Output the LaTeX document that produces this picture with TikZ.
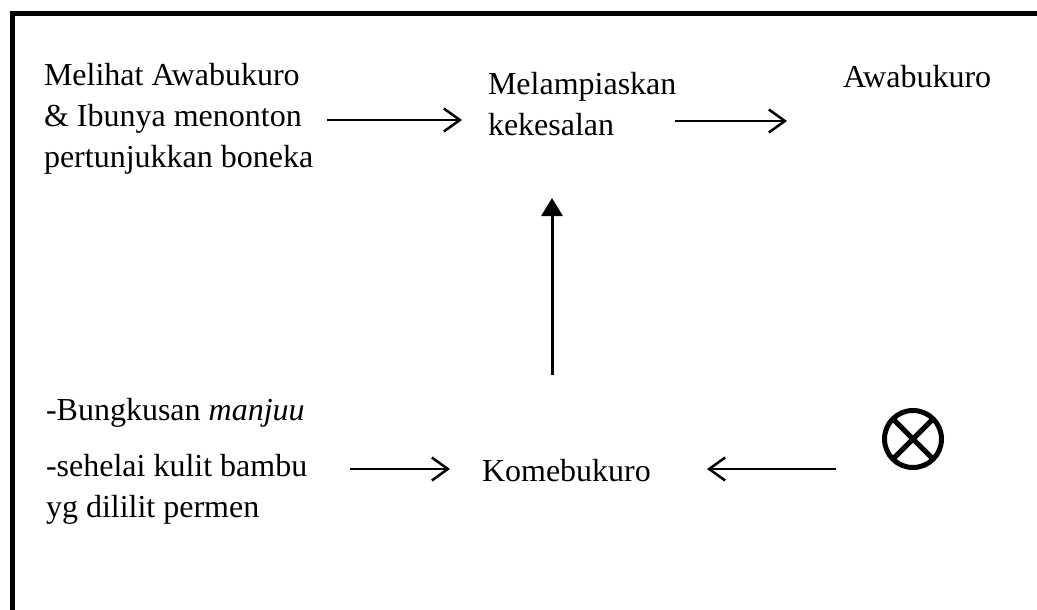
\documentclass[tikz,border=0pt]{standalone}
\usepackage{fontspec}
\setmainfont{Liberation Serif}
\usetikzlibrary{arrows.meta}
\tikzset{
  lbl/.style={anchor=base west, inner sep=0pt, outer sep=0pt, font=\fontsize{32}{41}\selectfont},
  flow/.style={line width=2.5pt, -{Straight Barb[length=16pt, width=23pt, line width=2.5pt]}},
  upflow/.style={line width=3pt, -{Triangle[length=18pt, width=21pt]}},
  frame/.style={line width=5pt, line join=miter}
}
\begin{document}
\begin{tikzpicture}[x=1pt, y=-1pt]
\useasboundingbox (0,0) rectangle (1037,610);
\draw[frame] (12.5,612) -- (12.5,13.5) -- (1040,13.5);

\node[lbl] (A) at (44,85) {\begin{tabular}[t]{@{}l@{}}Melihat Awabukuro\\ \& Ibunya menonton\\ pertunjukkan boneka\end{tabular}};
\node[lbl] (B) at (488,95) {\begin{tabular}[t]{@{}l@{}}Melampiaskan\\ kekesalan\end{tabular}};
\node[lbl] (C) at (843,88) {Awabukuro};
\node[lbl] (D) at (46,420) {-Bungkusan \textit{manjuu}};
\node[lbl] (E) at (46,476) {\begin{tabular}[t]{@{}l@{}}-sehelai kulit bambu\\ yg dililit permen\end{tabular}};
\node[lbl] (F) at (482,481) {Komebukuro};
\node[circle, draw, line width=5pt, minimum size=57pt, inner sep=0pt, outer sep=0pt] (X) at (913,439) {};
\draw[line width=5pt] (X.45) -- (X.225);
\draw[line width=5pt] (X.135) -- (X.315);

\coordinate (a1s) at (327,120);
\coordinate (a1e) at (462,120);
\coordinate (a2s) at (675,121);
\coordinate (a2e) at (787,121);
\coordinate (a3s) at (350,469);
\coordinate (a3e) at (450,469);
\coordinate (a4s) at (836,469);
\coordinate (a4e) at (707,469);
\coordinate (vs) at (552,375);
\coordinate (ve) at (552,198);

\draw[flow] (a1s) -- (a1e);
\draw[flow] (a2s) -- (a2e);
\draw[flow] (a3s) -- (a3e);
\draw[flow] (a4s) -- (a4e);
\draw[upflow] (vs) -- (ve);
\end{tikzpicture}
\end{document}
